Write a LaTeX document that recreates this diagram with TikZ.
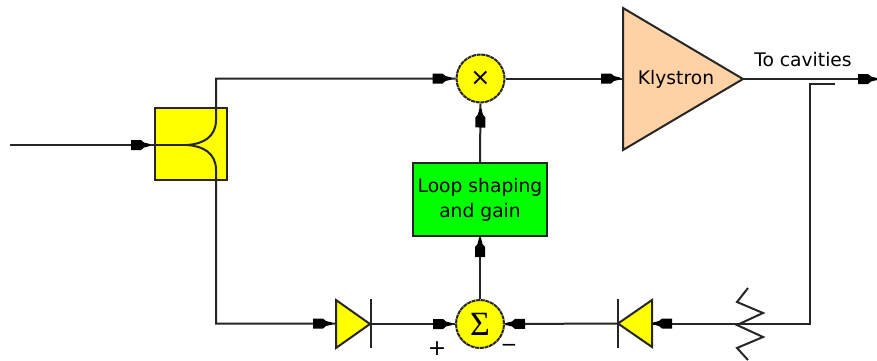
\documentclass[tikz,border=0pt]{standalone}
\usepackage{fontspec}
\setmainfont{DejaVu Sans}
\newfontfamily\symfont{Liberation Serif}
\usetikzlibrary{decorations.markings}
\definecolor{kly}{RGB}{255,210,165}
\definecolor{yel}{RGB}{255,255,0}
\definecolor{grn}{RGB}{0,255,0}
\tikzset{
  x=1pt,y=-1pt,
  wire/.style={line width=2pt,draw=black!85,line cap=butt,line join=miter},
  bar/.style={line width=2pt,draw=black!85},
  block/.style={draw=black!85,line width=2pt,minimum height=0pt,inner sep=0pt,align=center,font=\fontsize{18.7}{25}\selectfont},
  junction/.style={circle,draw=black!85,fill=yel,line width=2pt,dash pattern=on 4pt off 0.7pt,minimum size=48pt,inner sep=0pt},
  label/.style={inner sep=0pt,font=\fontsize{18.7}{20}\selectfont},
  tipat/.style={postaction={decorate},decoration={markings,mark=at position #1 with {\fill[black] (-19pt,-5pt)--(-9pt,-5pt)--(-6pt,-2.5pt)--(0pt,-1pt)--(0pt,1pt)--(-6pt,2.5pt)--(-9pt,5pt)--(-19pt,5pt)--cycle;}}},
}
\begin{document}
\begin{tikzpicture}
\useasboundingbox (0,0) rectangle (877,360);
% coordinates
\coordinate (in) at (10,145);
\coordinate (split) at (187,145);
\coordinate (outend) at (877,79);
\coordinate (klyA) at (623,8);
\coordinate (klyB) at (623,150);
\coordinate (klyC) at (743,79);
\coordinate (dlA) at (336,300);
\coordinate (dlB) at (336,348);
\coordinate (dlC) at (370,324);
\coordinate (drA) at (652,300);
\coordinate (drB) at (652,347);
\coordinate (drC) at (618,323.5);
\coordinate (dlIn) at (336,323.5);
\coordinate (drIn) at (652,323.5);
\coordinate (klyIn) at (623,78.5);
\coordinate (tapA) at (835,84);
\coordinate (tapB) at (810,84);
\coordinate (tapC) at (810,323.5);
\coordinate (upA) at (216,120);
\coordinate (upB) at (216,78.5);
\coordinate (loA) at (216,170);
\coordinate (loB) at (216,323.5);
% shapes
\node[block,fill=yel,minimum width=72pt,minimum height=72pt] (coupler) at (191,144) {};
\node[block,fill=grn,minimum width=134pt,minimum height=73pt] (loop) at (480,199.5) {Loop shaping\\and gain};
\node[junction,font=\fontsize{24}{24}\selectfont] (mult) at (480.5,78.5) {×};
\node[junction,font=\symfont\fontsize{34}{34}\selectfont] (sum) at (480,324) {Σ};
\fill[kly] (klyA)--(klyC)--(klyB)--cycle;
\draw[wire] (klyA)--(klyC)--(klyB)--cycle;
\node[label] (klytext) at (676,79) {Klystron};
\fill[yel] (dlA)--(dlC)--(dlB)--cycle;
\draw[wire] (dlA)--(dlC)--(dlB)--cycle;
\draw[bar] (370.5,299)--(370.5,348);
\fill[yel] (drA)--(drC)--(drB)--cycle;
\draw[wire] (drA)--(drC)--(drB)--cycle;
\draw[bar] (618,299)--(618,348);
% connectors
\draw[wire,tipat=140pt] (in)--(split);
\draw[wire,tipat=-4pt] (split) .. controls (203,144) and (216,137) .. (upA) -- (upB) -- (mult.west);
\draw[wire,tipat=-4pt] (split) .. controls (203,146) and (216,153) .. (loA) -- (loB) -- (dlIn);
\draw[wire,tipat=-3pt] (mult.east) -- (klyIn);
\draw[wire,tipat=-5pt] (loop.north) -- (mult.south);
\draw[wire,tipat=-1pt] (sum.north) -- (loop.south);
\draw[wire,tipat=-3pt] (dlC) -- (sum.west);
\draw[wire,tipat=134pt] (klyC) -- (outend);
\draw[wire,tipat=-1pt] (tapA) -- (tapB) -- (tapC) -- (drIn);
\draw[wire,tipat=-1pt] (drC) -- (sum.east);
% zigzag
\draw[line width=2pt,draw=black!85] (748,288)--(737,302)--(763,313)--(737,325)--(763,337)--(737,348)--(748,360);
\node[label] (cav) at (803,60) {To cavities};
\node[label,font=\fontsize{22}{22}\selectfont] (plus) at (437,349) {+};
\node[label,font=\fontsize{20}{20}\selectfont] (minus) at (509,347.5) {−};
\end{tikzpicture}
\end{document}
